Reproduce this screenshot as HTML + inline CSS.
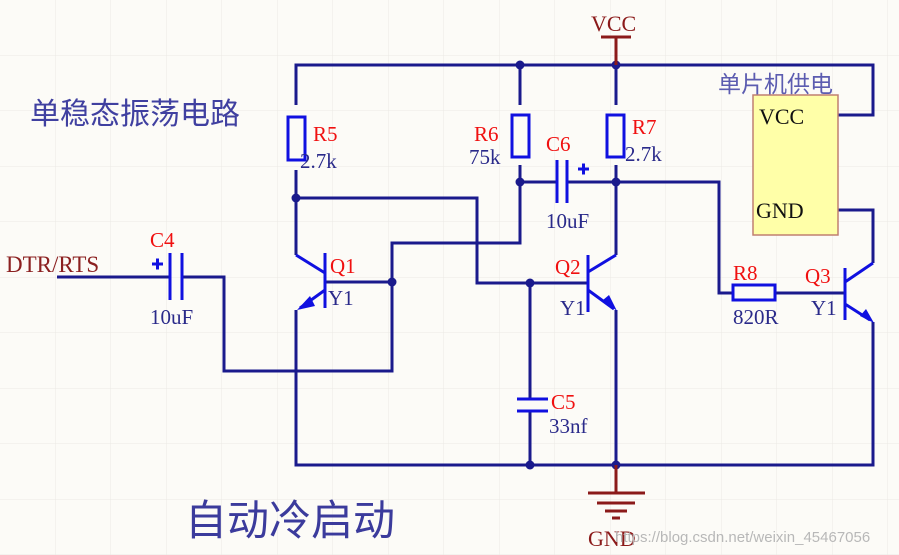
<!DOCTYPE html>
<html><head><meta charset="utf-8"><style>
body{margin:0;background:#fcfbf7;}
svg{display:block}
text{font-family:"Liberation Serif","Noto Serif CJK SC",serif;}
.cj{font-family:"Liberation Sans","Noto Sans CJK SC",sans-serif;fill:#3b3b9c}
.r{fill:#f01010;font-size:21px}
.b{fill:#2a2a8a;font-size:21px}
</style></head><body>
<svg width="899" height="555" viewBox="0 0 899 555" xmlns="http://www.w3.org/2000/svg">
<defs><pattern id="g" width="55.5" height="55.5" patternUnits="userSpaceOnUse"><path d="M55.5 0V55.5H0" fill="none" stroke="#ebeae4" stroke-width="1"/></pattern></defs>
<rect width="899" height="555" fill="#fcfbf7"/>
<rect width="899" height="555" fill="url(#g)"/>
<g fill="none" stroke="#1a1a8c" stroke-width="3">
<path d="M296 105V65H873V115H838"/>
<path d="M520 105V65M616 105V65"/>
<path d="M296 170V255"/>
<path d="M296 198H477V283H588"/>
<path d="M520 165V243H392V371H224V277H193"/>
<path d="M520 182H557M567 182H719V293H733M775 293H845"/>
<path d="M616 165V255"/>
<path d="M325 282H392"/>
<path d="M296 310V465H873V322"/>
<path d="M530 283V399M530 411V465"/>
<path d="M616 310V465"/>
<path d="M873 263V210H838"/>
<path d="M57 277H170M182 277H193"/>
</g>
<g fill="#1a1a8c"><circle cx="296" cy="198" r="4.5"/><circle cx="520" cy="65" r="4.5"/><circle cx="616" cy="65" r="4.5"/><circle cx="520" cy="182" r="4.5"/><circle cx="616" cy="182" r="4.5"/><circle cx="392" cy="282" r="4.5"/><circle cx="530" cy="283" r="4.5"/><circle cx="530" cy="465" r="4.5"/><circle cx="616" cy="465" r="4.5"/></g>
<g fill="#fcfbf7" stroke="#1010e0" stroke-width="3">
<rect x="288" y="117" width="17" height="43"/><rect x="512" y="115" width="17" height="42"/><rect x="607" y="115" width="17" height="42"/><rect x="733" y="285" width="42" height="15"/>
</g>
<g stroke="#1010e0" stroke-width="3" fill="none">
<path d="M170 253V300M182 253V300"/>
<path d="M557 160V203M567 160V203"/>
<path d="M517 399H548M517 411H548"/>
<path d="M325 253V308M296 255L325 273M325 290L300 308"/>
<path d="M588 255V312M616 255L588 272M588 290L614 309"/>
<path d="M845 268V320M873 263L845 282M845 304L870 320"/>
<path d="M152 264H163M157.5 258.5V269.5M578 169H589M583.5 163.5V174.5"/>
</g>
<g fill="#1010e0"><polygon points="297,310 310,296 315,306"/><polygon points="617,311 603,300 609,295"/><polygon points="874,323 860,316 866,309"/></g>
<g stroke="#8b1a1a" stroke-width="3" fill="none">
<path d="M601 37H631M616 37V65"/>
<path d="M616 465V493M588 493H645M597 503H635M605 511H627M612 518H620"/>
</g>
<text x="591" y="31" fill="#8b1a1a" font-size="22">VCC</text>
<text x="588" y="546" fill="#8b1a1a" font-size="22">GND</text>
<text x="6" y="272" fill="#8b2020" font-size="23">DTR/RTS</text>
<rect x="753" y="95" width="85" height="140" fill="#ffffa8" stroke="#c08070" stroke-width="1.5"/>
<text x="759" y="124" fill="#111" font-size="22">VCC</text>
<text x="756" y="218" fill="#111" font-size="22">GND</text>
<text x="718" y="92" class="cj" font-size="23" style="fill:#5c5cb0">单片机供电</text>
<text x="30" y="124" class="cj" font-size="30" style="fill:#4040a0">单稳态振荡电路</text>
<text x="185" y="535" class="cj" font-size="42">自动冷启动</text>
<text x="313" y="141" class="r">R5</text><text x="300" y="168" class="b">2.7k</text>
<text x="474" y="141" class="r">R6</text><text x="469" y="164" class="b">75k</text>
<text x="632" y="134" class="r">R7</text><text x="625" y="161" class="b">2.7k</text>
<text x="546" y="151" class="r">C6</text><text x="546" y="228" class="b">10uF</text>
<text x="150" y="247" class="r">C4</text><text x="150" y="324" class="b">10uF</text>
<text x="330" y="273" class="r">Q1</text><text x="328" y="305" class="b">Y1</text>
<text x="555" y="274" class="r">Q2</text><text x="560" y="315" class="b">Y1</text>
<text x="733" y="280" class="r">R8</text><text x="733" y="324" class="b">820R</text>
<text x="805" y="283" class="r">Q3</text><text x="811" y="315" class="b">Y1</text>
<text x="551" y="409" class="r">C5</text><text x="549" y="433" class="b">33nf</text>
<text x="615" y="542" fill="#b8b8b8" font-size="15" style="font-family:'Liberation Sans',sans-serif">https://blog.csdn.net/weixin_45467056</text>
</svg>
</body></html>
